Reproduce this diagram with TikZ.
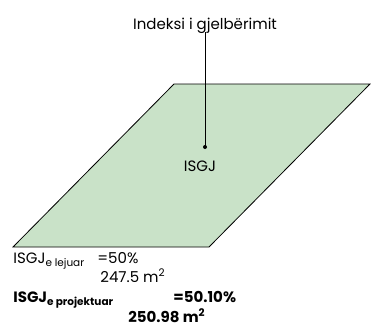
\documentclass[tikz,border=0pt]{standalone}
\usepackage{fontspec}
\setmainfont{Poppins}
\usepackage{xcolor}
\definecolor{plotgreen}{RGB}{201,226,200}
\usetikzlibrary{positioning}

\begin{document}
\begin{tikzpicture}[x=1pt,y=-1pt,
      lbl/.style={inner sep=0pt,font=\fontsize{15}{17}\selectfont},
      val/.style={lbl,anchor=base west},
      valb/.style={val,font=\fontsize{15}{17}\selectfont\bfseries},
      leader/.style={black,line width=0.8pt},
      thick
    ]
    \useasboundingbox (0,0) rectangle (376,330);
    % plot area
    \draw[fill=plotgreen,line width=0.8pt] (174,84) -- (370,84) -- (209,247) -- (13,247) -- cycle;

    \node[lbl,anchor=base] (title) at (205,29) {Indeksi i gjelbërimit};
    \coordinate (pin) at (205,147);
    \fill (pin) circle (2pt);
    \node[lbl,anchor=base] (isgj) at (200,171) {ISGJ};
    \draw[leader] (title.base -| pin) ++(0,3) -- (pin);

    % values
    \node[val] (lej) at (13,263) {ISGJ\textsubscript{e lejuar}};
    \node[val] (lejp) at (97,263) {=50\%};
    \node[val] (leja) at (100,282) {247.5 m\textsuperscript{2}};
    \node[valb] (proj) at (13,302) {ISGJ\textsubscript{e projektuar}};
    \node[valb] (projp) at (173,302) {=50.10\%};
    \node[valb] (proja) at (128,322) {250.98 m\textsuperscript{2}};
  \end{tikzpicture}
\end{document}
